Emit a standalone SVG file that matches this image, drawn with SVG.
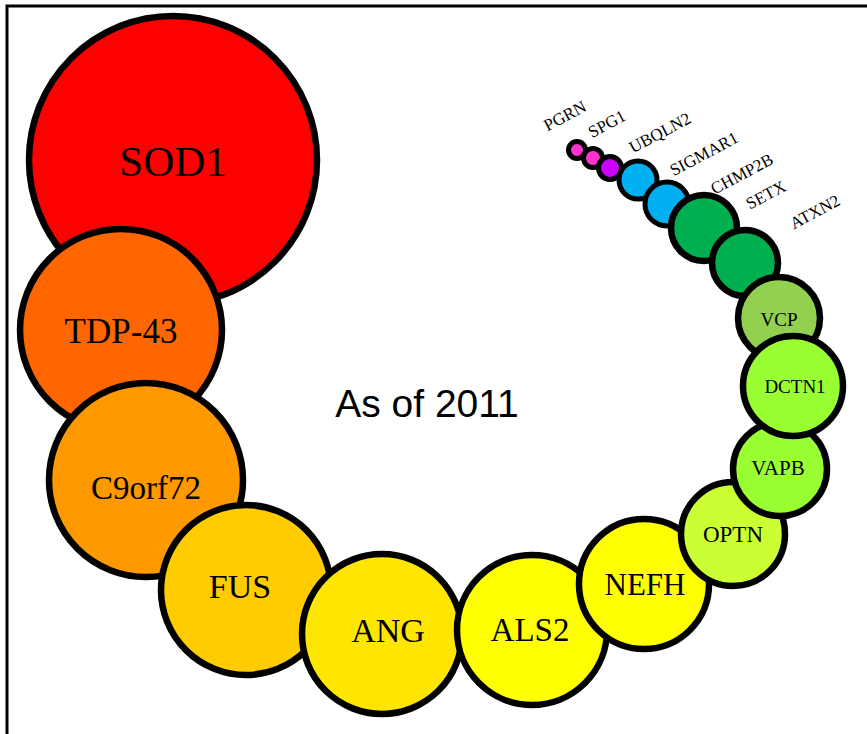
<svg xmlns="http://www.w3.org/2000/svg" width="867" height="734" viewBox="0 0 867 734">
  <style>
    .g circle { stroke: #000; stroke-width: 6.5; }
    .s circle { stroke: #000; stroke-width: 5; }
    .lbl { font-family: "Liberation Serif", "Times New Roman", serif; fill: #000; text-anchor: middle; dominant-baseline: central; }
    .tag { font-family: "Liberation Serif", "Times New Roman", serif; fill: #000; text-anchor: middle; font-size: 17px; dominant-baseline: central; }
  </style>
  <rect x="0" y="0" width="867" height="734" fill="#fff"/>
  <!-- frame (right and bottom sides fall outside the canvas) -->
  <rect x="7" y="6" width="880" height="760" fill="none" stroke="#000" stroke-width="3"/>

  <g id="genes">
    <!-- lower chain: each gene drawn over the previous -->
    <g id="SOD1" class="g"><circle cx="173" cy="160" r="144" fill="#FF0000"/><text class="lbl" x="173" y="161" font-size="43">SOD1</text></g>
    <g id="TDP-43" class="g"><circle cx="121" cy="330" r="101" fill="#FF6600"/><text class="lbl" x="121" y="331" font-size="35">TDP-43</text></g>
    <g id="C9orf72" class="g"><circle cx="146" cy="480" r="97" fill="#FF9900"/><text class="lbl" x="146" y="488" font-size="33">C9orf72</text></g>
    <g id="FUS" class="g"><circle cx="246" cy="590" r="85" fill="#FFCC00"/><text class="lbl" x="240" y="586" font-size="34">FUS</text></g>
    <g id="ANG" class="g"><circle cx="382" cy="634" r="80" fill="#FFE600"/><text class="lbl" x="388" y="630" font-size="34">ANG</text></g>
    <g id="ALS2" class="g"><circle cx="532" cy="630" r="75" fill="#FFFF00"/><text class="lbl" x="530" y="630" font-size="33">ALS2</text></g>
    <g id="NEFH" class="g"><circle cx="644" cy="584" r="65" fill="#FFFF00"/><text class="lbl" x="645" y="584" font-size="31">NEFH</text></g>
    <g id="OPTN" class="g"><circle cx="733" cy="534" r="52" fill="#CCFF33"/><text class="lbl" x="733" y="534" font-size="23">OPTN</text></g>
    <g id="VAPB" class="g"><circle cx="780" cy="469" r="47" fill="#99FF33"/><text class="lbl" x="778" y="468" font-size="21">VAPB</text></g>

    <!-- upper chain: tail first, so each larger gene sits over the smaller one -->
    <g id="PGRN" class="s"><circle cx="577" cy="150" r="8.5" fill="#FF33CC"/></g>
    <g id="SPG1" class="s"><circle cx="593" cy="158" r="9.5" fill="#FF33CC"/></g>
    <g id="UBQLN2" class="s"><circle cx="610" cy="168" r="11.5" fill="#CC00FF"/></g>
    <g id="SIGMAR1" class="s"><circle cx="638" cy="180" r="19" fill="#00B0F0"/></g>
    <g id="CHMP2B" class="s"><circle cx="667" cy="204" r="22" fill="#00B0F0"/></g>
    <g id="SETX" class="g"><circle cx="704" cy="228" r="33" fill="#00B050"/></g>
    <g id="ATXN2" class="g"><circle cx="745" cy="263" r="33" fill="#00B050"/></g>
    <g id="VCP" class="g"><circle cx="779" cy="318" r="41" fill="#92D050"/><text class="lbl" x="779" y="319" font-size="19">VCP</text></g>
    <g id="DCTN1" class="g"><circle cx="793" cy="386" r="50" fill="#99FF33"/><text class="lbl" x="795" y="386" font-size="19">DCTN1</text></g>
  </g>

  <!-- slanted names for the small genes -->
  <g id="tail-labels">
    <text class="tag" transform="translate(565 116) rotate(-28)">PGRN</text>
    <text class="tag" transform="translate(607 124) rotate(-28)">SPG1</text>
    <text class="tag" transform="translate(660 133) rotate(-28)">UBQLN2</text>
    <text class="tag" transform="translate(704 154) rotate(-28)">SIGMAR1</text>
    <text class="tag" transform="translate(742 174) rotate(-28)">CHMP2B</text>
    <text class="tag" transform="translate(766 195) rotate(-28)">SETX</text>
    <text class="tag" transform="translate(815 212) rotate(-28)">ATXN2</text>
  </g>

  <text id="caption" x="427" y="417" font-family="Liberation Sans, Arial, sans-serif" font-size="39" text-anchor="middle" fill="#000">As of 2011</text>
</svg>
